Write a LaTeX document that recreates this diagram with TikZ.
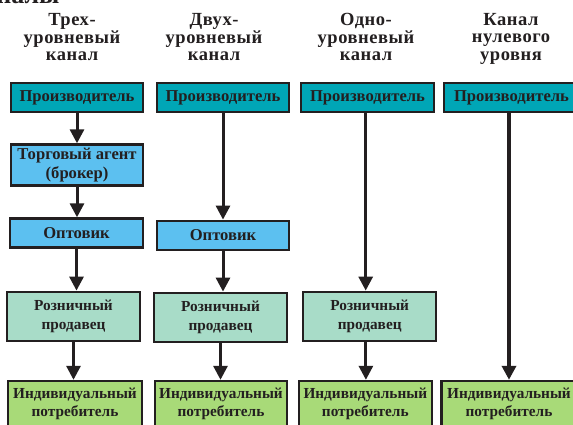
\documentclass[tikz,border=0pt]{standalone}
\usepackage{fontspec}
\setmainfont{Liberation Serif}
\newfontfamily\titlefont{Liberation Serif}[LetterSpace=3]
\usetikzlibrary{arrows.meta}
\definecolor{prodteal}{RGB}{0,166,182}
\definecolor{agentblue}{RGB}{92,192,240}
\definecolor{retailmint}{RGB}{168,220,200}
\definecolor{consgreen}{RGB}{168,218,120}
\definecolor{inkdark}{RGB}{35,31,32}
\tikzset{
  chbox/.style={draw=inkdark, line width=2.4pt, text=inkdark, align=center,
    font=\bfseries\fontsize{16.6}{18.5}\selectfont,
    minimum width=132pt, minimum height=29pt, inner sep=0pt},
  chsmall/.style={chbox, font=\bfseries\fontsize{15.3}{18.3}\selectfont},
  chtitle/.style={text=inkdark, align=center, anchor=north, inner sep=0pt,
    font=\titlefont\bfseries\fontsize{18.5}{17.5}\selectfont},
  chflow/.style={draw=inkdark, line width=3pt, -{Triangle[width=14pt,length=14pt]}},
}
\begin{document}
\begin{tikzpicture}[x=1pt,y=-1pt]
\clip (0,0) rectangle (573,425);
\fill[white] (0,0) rectangle (573,425);
\node[anchor=base east, text=inkdark, font=\bfseries\fontsize{26}{26}\selectfont] (head) at (63,3.5) {Каналы};
% titles
\node[chtitle] (t1) at (72,13.5) {Трех-\\уровневый\\канал};
\node[chtitle] (t2) at (214,13.5) {Двух-\\уровневый\\канал};
\node[chtitle] (t3) at (366,13.5) {Одно-\\уровневый\\канал};
\node[chtitle] (t4) at (511,13) {Канал\\нулевого\\уровня};
% three-level channel
\node[chbox, fill=prodteal] (prod1) at (77,97.5) {Производитель};
\node[chbox, fill=agentblue, minimum height=41pt] (agent1) at (77,165) {Торговый агент\\(брокер)};
\node[chbox, fill=agentblue, minimum width=133pt] (opt1) at (76.5,233) {Оптовик};
\node[chsmall, fill=retailmint, minimum width=133pt, minimum height=49pt] (ret1) at (73.5,316.3) {Розничный\\продавец};
\node[chsmall, fill=consgreen, minimum width=134pt, minimum height=46pt] (cons1) at (75,404) {Индивидуальный\\потребитель};
% two-level channel
\node[chbox, fill=prodteal] (prod2) at (223,97.5) {Производитель};
\node[chbox, fill=agentblue] (opt2) at (223,235.3) {Оптовик};
\node[chsmall, fill=retailmint, minimum width=133pt, minimum height=49pt] (ret2) at (220.5,317.3) {Розничный\\продавец};
\node[chsmall, fill=consgreen, minimum height=46pt] (cons2) at (221,404) {Индивидуальный\\потребитель};
% one-level channel
\node[chbox, fill=prodteal, minimum width=133pt] (prod3) at (367.5,97.5) {Производитель};
\node[chsmall, fill=retailmint, minimum width=133pt, minimum height=49pt] (ret3) at (369.7,316.3) {Розничный\\продавец};
\node[chsmall, fill=consgreen, minimum width=133pt, minimum height=46pt] (cons3) at (365.3,404) {Индивидуальный\\потребитель};
% zero-level channel
\node[chbox, fill=prodteal, minimum width=135pt] (prod4) at (511.5,97.5) {Производитель};
\node[chsmall, fill=consgreen, minimum width=135pt, minimum height=46pt] (cons4) at (509,404) {Индивидуальный\\потребитель};
% flows
\draw[chflow] (prod1.south) -- (prod1.south |- agent1.north);
\draw[chflow] (agent1.south) -- (agent1.south |- opt1.north);
\draw[chflow] (opt1.south) -- (opt1.south |- ret1.north);
\draw[chflow] (ret1.south) -- (ret1.south |- cons1.north);
\draw[chflow] (prod2.south) -- (prod2.south |- opt2.north);
\draw[chflow] (opt2.south) -- (opt2.south |- ret2.north);
\draw[chflow] (ret2.south) -- (ret2.south |- cons2.north);
\draw[chflow] ([xshift=-1.8pt]prod3.south) -- ([xshift=-1.8pt]prod3.south |- ret3.north);
\draw[chflow] ([xshift=-3.8pt]ret3.south) -- ([xshift=-3.8pt]ret3.south |- cons3.north);
\draw[chflow, line width=4pt] ([xshift=-2.5pt]prod4.south) -- ([xshift=-2.5pt]prod4.south |- cons4.north);
\end{tikzpicture}
\end{document}
